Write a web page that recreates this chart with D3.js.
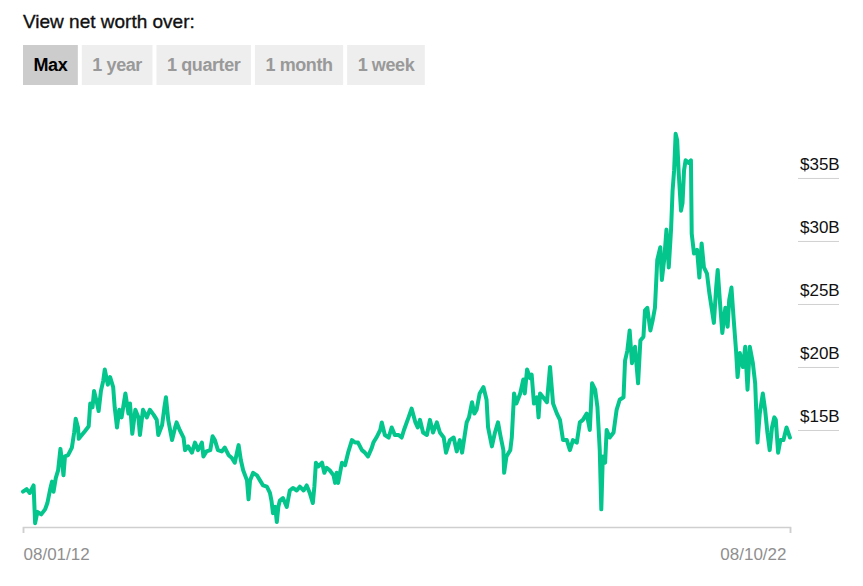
<!DOCTYPE html>
<html>
<head>
<meta charset="utf-8">
<script src="https://cdn.jsdelivr.net/npm/d3@7"></script>
<style>
  body { margin: 0; background: #fff; }
  svg { display: block; font-family: Arial, "Liberation Sans", Helvetica, sans-serif; }
</style>
</head>
<body>
<script>
// Period buttons above the chart
const periods = ["Max", "1 year", "1 quarter", "1 month", "1 week"];

// x axis end labels (mm/dd/yy)
const dateLabels = ["08/01/12", "08/10/22"];

// y axis ticks, billions of dollars
const valueTicks = [15, 20, 25, 30, 35];

// net worth history: decimal year -> billions of dollars
const years = [
  2012.582, 2012.63, 2012.67, 2012.72, 2012.74, 2012.77, 2012.82, 2012.87, 2012.90, 2012.94,
  2012.96, 2012.98, 2013.01, 2013.04, 2013.07, 2013.09, 2013.11, 2013.13, 2013.17, 2013.22,
  2013.25, 2013.27, 2013.30, 2013.31, 2013.35, 2013.39, 2013.44, 2013.46, 2013.49, 2013.51,
  2013.55, 2013.57, 2013.60, 2013.63, 2013.65, 2013.69, 2013.72, 2013.76, 2013.78, 2013.81,
  2013.84, 2013.87, 2013.92, 2013.96, 2013.98, 2014.01, 2014.05, 2014.09, 2014.11, 2014.15,
  2014.20, 2014.24, 2014.29, 2014.33, 2014.35, 2014.40, 2014.43, 2014.45, 2014.48, 2014.53,
  2014.57, 2014.59, 2014.63, 2014.68, 2014.70, 2014.74, 2014.79, 2014.83, 2014.87, 2014.92,
  2014.94, 2014.98, 2015.03, 2015.06, 2015.09, 2015.13, 2015.18, 2015.22, 2015.27, 2015.31,
  2015.35, 2015.40, 2015.43, 2015.46, 2015.51, 2015.53, 2015.55, 2015.59, 2015.64, 2015.68,
  2015.72, 2015.77, 2015.81, 2015.83, 2015.85, 2015.88, 2015.90, 2015.92, 2015.94, 2015.98,
  2016.03, 2016.07, 2016.11, 2016.16, 2016.20, 2016.25, 2016.29, 2016.33, 2016.37, 2016.39,
  2016.41, 2016.44, 2016.49, 2016.52, 2016.55, 2016.59, 2016.64, 2016.66, 2016.68, 2016.70,
  2016.75, 2016.79, 2016.83, 2016.88, 2016.92, 2016.96, 2017.01, 2017.05, 2017.09, 2017.14,
  2017.16, 2017.20, 2017.25, 2017.27, 2017.31, 2017.36, 2017.40, 2017.44, 2017.49, 2017.53,
  2017.56, 2017.62, 2017.66, 2017.71, 2017.74, 2017.77, 2017.81, 2017.86, 2017.90, 2017.94,
  2017.99, 2018.03, 2018.08, 2018.11, 2018.16, 2018.21, 2018.25, 2018.29, 2018.32, 2018.35,
  2018.38, 2018.41, 2018.45, 2018.48, 2018.51, 2018.55, 2018.60, 2018.64, 2018.66, 2018.71,
  2018.75, 2018.79, 2018.82, 2018.86, 2018.87, 2018.90, 2018.95, 2018.97, 2019.00, 2019.03,
  2019.08, 2019.12, 2019.14, 2019.17, 2019.21, 2019.23, 2019.26, 2019.30, 2019.32, 2019.34,
  2019.38, 2019.43, 2019.47, 2019.51, 2019.56, 2019.60, 2019.64, 2019.69, 2019.73, 2019.77,
  2019.82, 2019.86, 2019.90, 2019.95, 2019.99, 2020.02, 2020.06, 2020.09, 2020.12, 2020.14,
  2020.16, 2020.19, 2020.21, 2020.25, 2020.30, 2020.34, 2020.38, 2020.43, 2020.45, 2020.48,
  2020.51, 2020.54, 2020.58, 2020.62, 2020.65, 2020.69, 2020.71, 2020.74, 2020.78, 2020.81,
  2020.84, 2020.87, 2020.91, 2020.93, 2020.96, 2020.99, 2021.02, 2021.05, 2021.07, 2021.09,
  2021.11, 2021.13, 2021.15, 2021.18, 2021.20, 2021.22, 2021.24, 2021.28, 2021.31, 2021.32,
  2021.35, 2021.39, 2021.42, 2021.45, 2021.48, 2021.52, 2021.55, 2021.58, 2021.61, 2021.64,
  2021.66, 2021.69, 2021.72, 2021.76, 2021.79, 2021.81, 2021.84, 2021.87, 2021.90, 2021.92,
  2021.95, 2021.99, 2022.02, 2022.05, 2022.08, 2022.12, 2022.15, 2022.18, 2022.21, 2022.25,
  2022.28, 2022.31, 2022.34, 2022.37, 2022.40, 2022.42, 2022.45, 2022.48, 2022.52, 2022.56,
  2022.605
];

const netWorth = [
  10.1, 10.3, 10.0, 10.6, 7.6, 8.5, 8.3, 8.7, 9.2, 10.4,
  10.9, 10.1, 11.2, 11.8, 13.5, 12.6, 11.4, 12.9, 13.0, 13.6,
  14.8, 15.9, 15.2, 14.3, 14.6, 14.9, 15.3, 17.1, 16.8, 18.1,
  17.1, 16.5, 18.1, 18.9, 19.8, 18.6, 19.2, 18.4, 16.8, 15.2,
  16.6, 16.0, 17.9, 16.3, 17.1, 14.7, 16.6, 16.0, 14.6, 16.6,
  16.0, 16.6, 16.2, 15.8, 14.6, 15.4, 16.8, 17.6, 15.8, 14.2,
  15.2, 15.6, 15.0, 14.4, 13.4, 13.7, 13.2, 14.0, 13.4, 14.0,
  12.9, 13.3, 13.4, 14.5, 14.2, 13.4, 13.3, 13.6, 13.0, 12.8,
  12.4, 13.8, 12.6, 11.8, 11.0, 9.5, 11.0, 11.6, 11.4, 11.0,
  10.6, 10.5, 10.0, 9.4, 8.4, 8.9, 7.7, 8.9, 9.4, 9.6,
  8.9, 10.2, 10.4, 10.2, 10.5, 10.2, 10.6, 10.0, 9.2, 10.5,
  12.4, 12.1, 12.4, 11.6, 12.0, 11.8, 11.4, 10.8, 11.6, 10.8,
  12.4, 12.2, 13.2, 14.2, 14.0, 14.0, 13.4, 13.2, 12.9, 13.6,
  14.0, 14.4, 15.0, 15.6, 14.6, 14.4, 15.2, 14.6, 14.6, 14.4,
  15.0, 16.0, 16.7, 15.6, 15.2, 15.8, 14.8, 14.6, 15.8, 14.8,
  15.6, 14.8, 14.4, 13.2, 14.2, 14.4, 13.3, 14.2, 13.2, 14.4,
  15.6, 16.0, 17.2, 16.3, 16.6, 17.9, 18.4, 17.4, 15.2, 13.7,
  14.8, 15.6, 14.6, 13.4, 11.6, 12.9, 13.4, 14.4, 17.9, 17.1,
  17.9, 19.0, 17.9, 19.8, 19.1, 19.4, 17.1, 17.6, 16.0, 17.9,
  17.6, 17.2, 20.0, 17.1, 16.3, 15.8, 14.2, 14.2, 13.4, 14.2,
  14.0, 15.6, 15.8, 16.3, 15.0, 18.7, 18.2, 16.8, 13.4, 8.7,
  12.9, 12.4, 15.0, 14.4, 14.8, 16.6, 17.4, 17.6, 20.5, 21.3,
  22.9, 20.3, 21.6, 18.7, 22.1, 22.4, 24.5, 24.7, 22.9, 23.7,
  24.7, 28.5, 29.5, 26.9, 28.5, 30.9, 27.9, 30.9, 34.0, 35.6,
  38.5, 38.0, 35.4, 32.4, 33.0, 35.6, 36.4, 36.2, 36.4, 30.6,
  29.0, 29.3, 27.1, 29.8, 27.9, 27.4, 25.9, 24.7, 23.5, 26.3,
  27.7, 25.1, 22.7, 24.7, 23.2, 25.3, 26.3, 23.7, 21.3, 19.2,
  21.1, 20.0, 21.6, 18.2, 21.6, 20.3, 18.7, 14.0, 16.3, 17.9,
  16.6, 14.8, 13.4, 15.2, 16.0, 15.8, 13.2, 14.2, 14.2, 15.2,
  14.4
];

const width = 863;
const height = 586;

const parseLabel = d3.timeParse("%m/%d/%y");
const formatLabel = d3.timeFormat("%m/%d/%y");

// decimal year -> Date
function yearToDate(y) {
    const yr = Math.floor(y);
    const start = new Date(yr, 0, 1);
    const end = new Date(yr + 1, 0, 1);
    return new Date(+start + (y - yr) * (end - start));
}

const data = years.map((y, i) => ({ date: yearToDate(y), value: netWorth[i] }));

const svg = d3.select("body")
    .append("svg")
    .attr("width", width)
    .attr("height", height);

// Header
svg.append("text")
    .attr("x", 23)
    .attr("y", 28)
    .attr("font-size", 19)
    .attr("fill", "#111")
    .attr("stroke", "#111")
    .attr("stroke-width", 0.35)
    .text("View net worth over:");

// Buttons
const btnGroup = svg.append("g");
let bx = 23;
periods.forEach((p, i) => {
    const g = btnGroup.append("g");
    const rect = g.append("rect")
        .attr("y", 45)
        .attr("height", 40)
        .attr("fill", i === 0 ? "#cccccc" : "#eeeeee");
    const t = g.append("text")
        .attr("y", 71)
        .attr("font-size", 18)
        .attr("font-weight", "bold")
        .attr("letter-spacing", -0.4)
        .attr("fill", i === 0 ? "#000" : "#999")
        .text(p);
    const w = t.node().getComputedTextLength() + 21;
    rect.attr("x", bx).attr("width", w);
    t.attr("x", bx + 10.5);
    bx += w + 4;
});

// Scales
const x = d3.scaleTime()
    .domain(dateLabels.map(parseLabel))
    .range([23, 790]);

const y = d3.scaleLinear()
    .domain([7.3, 39.6])
    .range([527, 120]);

// y axis: labels sitting on short grid lines at the right
const yAxis = svg.append("g")
    .attr("transform", "translate(798,0)")
    .call(d3.axisRight(y)
        .tickValues(valueTicks)
        .tickSize(41)
        .tickFormat(d => `$${d}B`));
yAxis.select(".domain").remove();
yAxis.selectAll(".tick line").attr("stroke", "#d0d0d0");
yAxis.selectAll(".tick text")
    .attr("x", 2)
    .attr("y", -8)
    .attr("dy", null)
    .attr("text-anchor", "start")
    .attr("font-size", 17)
    .attr("font-family", null)
    .attr("fill", "#111");

// x axis
const xAxis = svg.append("g")
    .attr("transform", "translate(0,527)")
    .call(d3.axisBottom(x)
        .tickValues(dateLabels.map(parseLabel))
        .tickSizeOuter(0)
        .tickSize(6)
        .tickFormat(formatLabel));
xAxis.select(".domain").attr("stroke", "#cfcfcf").attr("stroke-width", 1.5);
xAxis.selectAll(".tick line").attr("stroke", "#cfcfcf").attr("stroke-width", 1.5);
xAxis.selectAll(".tick text")
    .attr("y", 33)
    .attr("dy", null)
    .attr("font-size", 17)
    .attr("font-family", null)
    .attr("fill", "#8f8f8f")
    .attr("text-anchor", (d, i) => i === 0 ? "start" : "end")
    .attr("dx", (d, i) => i === 0 ? 0 : -4);

// Line
const line = d3.line()
    .x(d => x(d.date))
    .y(d => y(d.value));

svg.append("path")
    .datum(data)
    .attr("fill", "none")
    .attr("stroke", "#04c68d")
    .attr("stroke-width", 4)
    .attr("stroke-linejoin", "round")
    .attr("stroke-linecap", "round")
    .attr("d", line);
</script>
</body>
</html>
